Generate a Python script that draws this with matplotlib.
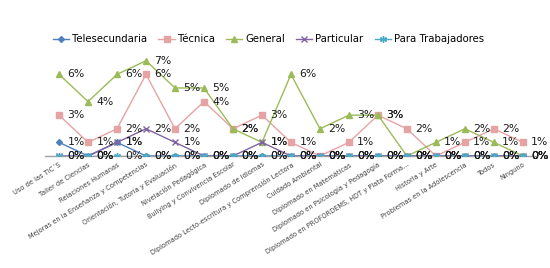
import matplotlib
matplotlib.use("Agg")
import matplotlib.pyplot as plt
from matplotlib.lines import Line2D

categories = [
    "Uso de las TIC´S", "Taller de Ciencias", "Relaciones Humanas",
    "Mejoras en la Enseñanza y Competencias", "Orientación, Tutoría y Evaluación",
    "Nivelación Pedagógica", "Bullying y Convivencia Escolar", "Diplomado de Idiomas",
    "Diplomado Lecto-escritura y Comprensión Lectora", "Cuidado Ambiental",
    "Diplomado en Matemáticas", "Diplomado en Psicología y Pedagogía",
    "Diplomado en PROFORDEMS, HDT y Plata Forma...", "Historia y Arte",
    "Problemas en la Adolescencia", "Todos", "Ninguno",
]
telesecundaria = [0.01, 0, 0.01, 0, 0, 0, 0, 0, 0, 0, 0, 0, 0, 0, 0, 0, 0]
tecnica = [0.03, 0.01, 0.02, 0.06, 0.02, 0.04, 0.02, 0.03, 0.01, 0, 0.01, 0.03, 0.02, 0, 0.01, 0.02, 0.01]
general = [0.06, 0.04, 0.06, 0.07, 0.05, 0.05, 0.02, 0.01, 0.06, 0.02, 0.03, 0.03, 0, 0.01, 0.02, 0.01, 0]
particular = [0, 0, 0.01, 0.02, 0.01, 0, 0, 0.01, 0, 0, 0, 0, 0, 0, 0, 0, 0]
trabajadores = [0] * 17
series_names = ["Telesecundaria", "Técnica", "General", "Particular", "Para Trabajadores"]

series = [telesecundaria, tecnica, general, particular, trabajadores]
colors = ["#4F81BD", "#E6A3A3", "#9BBB59", "#8064A2", "#4BACC6"]
markers = ["D", "s", "^", "x", (6, 2, 0)]
msizes = [3, 5, 5, 4.5, 5]

fig = plt.figure(figsize=(5.5, 2.68), dpi=100)
ax = fig.add_axes([0.081, 0.418, 0.896, 0.406])
x = list(range(len(categories)))

handles = []
for vals, c, m, ms, name in zip(series, colors, markers, msizes, series_names):
    ax.plot(x, vals, color=c, lw=1.0, marker=m, ms=ms, mec=c, mfc=c, mew=1.0, zorder=3)
    handles.append(Line2D([0], [0], color=c, lw=1.0, marker=m, ms=ms, mec=c, mfc=c))
    for xi, v in zip(x, vals):
        ax.annotate(f"{v:.0%}", (xi, v), xytext=(6, 0), textcoords="offset points",
                    ha="left", va="center", fontsize=7.8, color="#1a1a1a", zorder=4)

ax.set_xlim(-0.5, len(categories) - 0.5)
ax.set_ylim(0, 0.08)
for s in ["top", "right", "left"]:
    ax.spines[s].set_visible(False)
ax.spines["bottom"].set_color("#A0A0A0")
ax.spines["bottom"].set_linewidth(1.0)
ax.set_yticks([])
ax.set_xticks(x)
ax.set_xticklabels(categories, rotation=32, ha="right", rotation_mode="anchor",
                   fontsize=4.8, color="#404040")
ax.tick_params(axis="x", length=0, pad=4)

fig.legend(handles, series_names, loc="center", bbox_to_anchor=(0.488, 0.854), ncol=5,
           frameon=False, fontsize=7.3, handlelength=1.6, columnspacing=1.1, handletextpad=0.3)

fig.savefig("out.png", dpi=100)
